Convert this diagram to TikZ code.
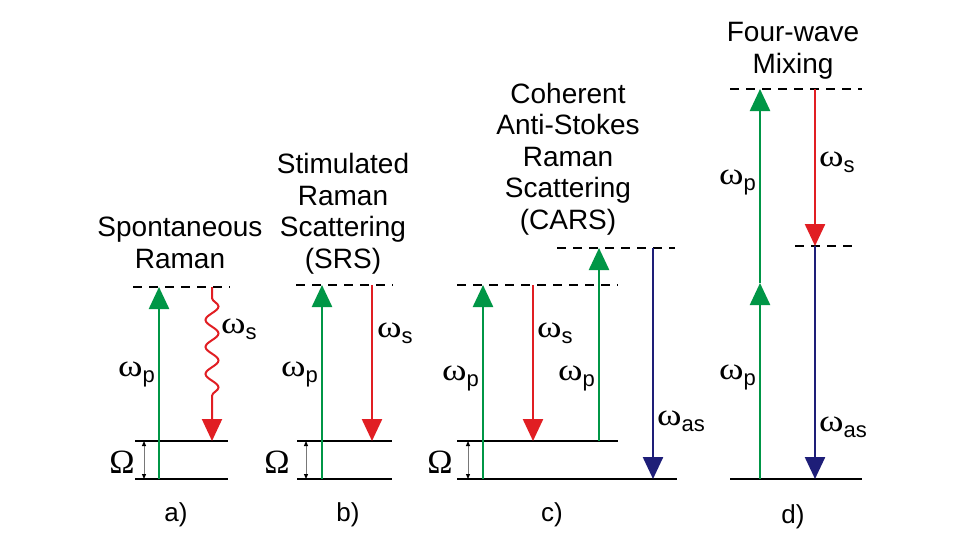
\documentclass[tikz,border=0pt]{standalone}
\usepackage{fontspec}
\setmainfont{Liberation Sans}
\newfontfamily\omfont{Liberation Serif}
\usetikzlibrary{arrows.meta,decorations.pathmorphing}
\definecolor{pgreen}{RGB}{0,150,70}
\definecolor{pred}{RGB}{225,30,35}
\definecolor{pblue}{RGB}{30,30,120}
\definecolor{pgray}{RGB}{120,120,120}
\newcommand\omlab[1]{\scalebox{1.2}[1]{\fontsize{31}{31}\selectfont\omfont ω}\raisebox{-6pt}{\fontsize{22}{22}\selectfont #1}}
\begin{document}
\begin{tikzpicture}[x=1pt,y=-1pt,
  level/.style={line width=2.6pt,black},
  virt/.style={line width=1.9pt,black,dash pattern=on 9pt off 7pt},
  beam/.style={line width=2.4pt,-{Triangle[length=22pt,width=20pt]}},
  gap/.style={line width=1pt,pgray,{Triangle[length=5pt,width=4pt,black]}-{Triangle[length=5pt,width=4pt,black]}},
  title/.style={align=center,font=\fontsize{28}{31.5}\selectfont,inner sep=0pt,anchor=base},
  tag/.style={font=\fontsize{26}{26}\selectfont,inner sep=0pt,anchor=base},
  lab/.style={inner sep=0pt},
  omg/.style={font=\fontsize{34}{34}\selectfont\omfont,inner sep=0pt,anchor=base}]
\useasboundingbox[fill=white] (0,0) rectangle (968,544);
% ---------- a) Spontaneous Raman
\node[title] (ta) at (180,268) {Spontaneous\\Raman};
\coordinate (aV1) at (133,287); \coordinate (aV2) at (230,287);
\coordinate (aU1) at (135,441); \coordinate (aU2) at (228,441);
\coordinate (aL1) at (135,479); \coordinate (aL2) at (228,479);
\coordinate (aGb) at (159,479); \coordinate (aGt) at (159,287);
\coordinate (aRt) at (212,287); \coordinate (aRb) at (212,441);
\coordinate (aOt) at (144,441); \coordinate (aOb) at (144,479);
\draw[virt] (aV1) -- (aV2);
\draw[level] (aU1) -- (aU2);
\draw[level] (aL1) -- (aL2);
\draw[gap] (aOt) -- (aOb);
\draw[beam,pgreen] (aGb) -- (aGt);
\draw[beam,pred,line width=2pt,decorate,decoration={snake,amplitude=6.5pt,segment length=27pt,pre length=11pt,post length=34pt}] (aRt) -- (aRb);
\node[lab,anchor=base east] (apl) at (155,376) {\omlab{p}};
\node[lab,anchor=base west] (asl) at (221,333) {\omlab{s}};
\node[omg] (aom) at (122,473) {Ω};
\node[tag] (tga) at (176,521) {a)};
% ---------- b) SRS
\node[title] (tb) at (343,268) {Stimulated\\Raman\\Scattering\\(SRS)};
\coordinate (bV1) at (296,285); \coordinate (bV2) at (393,285);
\coordinate (bU1) at (297,441); \coordinate (bU2) at (392,441);
\coordinate (bL1) at (297,479); \coordinate (bL2) at (392,479);
\coordinate (bGb) at (322,479); \coordinate (bGt) at (322,285);
\coordinate (bRt) at (372,285); \coordinate (bRb) at (372,441);
\coordinate (bOt) at (306,441); \coordinate (bOb) at (306,479);
\draw[virt] (bV1) -- (bV2);
\draw[level] (bU1) -- (bU2);
\draw[level] (bL1) -- (bL2);
\draw[gap] (bOt) -- (bOb);
\draw[beam,pgreen] (bGb) -- (bGt);
\draw[beam,pred] (bRt) -- (bRb);
\node[lab,anchor=base east] (bpl) at (318,376) {\omlab{p}};
\node[lab,anchor=base west] (bsl) at (377,337) {\omlab{s}};
\node[omg] (bom) at (277,473) {Ω};
\node[tag] (tgb) at (348,521) {b)};
% ---------- c) CARS
\node[title] (tc) at (568,229) {Coherent\\Anti-Stokes\\Raman\\Scattering\\(CARS)};
\coordinate (cV1) at (457,285); \coordinate (cV2) at (618,285);
\coordinate (cW1) at (557,248); \coordinate (cW2) at (675,248);
\coordinate (cU1) at (457,441); \coordinate (cU2) at (618,441);
\coordinate (cL1) at (457,479); \coordinate (cL2) at (677,479);
\coordinate (cGb) at (483,479); \coordinate (cGt) at (483,285);
\coordinate (cRt) at (533,285); \coordinate (cRb) at (533,441);
\coordinate (cHb) at (599,441); \coordinate (cHt) at (599,248);
\coordinate (cBt) at (653,248); \coordinate (cBb) at (653,479);
\coordinate (cOt) at (468,441); \coordinate (cOb) at (468,479);
\draw[virt] (cV1) -- (cV2);
\draw[virt] (cW1) -- (cW2);
\draw[level] (cU1) -- (cU2);
\draw[level] (cL1) -- (cL2);
\draw[gap] (cOt) -- (cOb);
\draw[beam,pgreen] (cGb) -- (cGt);
\draw[beam,pred] (cRt) -- (cRb);
\draw[beam,pgreen] (cHb) -- (cHt);
\draw[beam,pblue] (cBt) -- (cBb);
\node[lab,anchor=base east] (cpl) at (479,380) {\omlab{p}};
\node[lab,anchor=base east] (cpl2) at (595,380) {\omlab{p}};
\node[lab,anchor=base west] (csl) at (537,337) {\omlab{s}};
\node[lab,anchor=base west] (cal) at (657,425) {\omlab{as}};
\node[omg] (com) at (440,473) {Ω};
\node[tag] (tgc) at (552,521) {c)};
% ---------- d) Four-wave mixing
\node[title] (td) at (793,73) {Four-wave\\Mixing};
\coordinate (dV1) at (730,89); \coordinate (dV2) at (862,89);
\coordinate (dW1) at (795,246); \coordinate (dW2) at (855,246);
\coordinate (dL1) at (730,479); \coordinate (dL2) at (862,479);
\coordinate (dGb) at (760,479); \coordinate (dGm) at (760,283); \coordinate (dGt) at (760,89);
\coordinate (dRt) at (815,89); \coordinate (dRb) at (815,246);
\coordinate (dBb) at (815,479);
\draw[virt] (dV1) -- (dV2);
\draw[virt] (dW1) -- (dW2);
\draw[level] (dL1) -- (dL2);
\draw[beam,pgreen] (dGb) -- (dGm);
\draw[beam,pgreen] (dGm) -- (dGt);
\draw[beam,pred] (dRt) -- (dRb);
\draw[beam,pblue] (dRb) -- (dBb);
\node[lab,anchor=base east] (dpl) at (756,184) {\omlab{p}};
\node[lab,anchor=base east] (dpl2) at (756,379) {\omlab{p}};
\node[lab,anchor=base west] (dsl) at (819,166) {\omlab{s}};
\node[lab,anchor=base west] (dal) at (819,431) {\omlab{as}};
\node[tag] (tgd) at (793,523) {d)};
\end{tikzpicture}
\end{document}
